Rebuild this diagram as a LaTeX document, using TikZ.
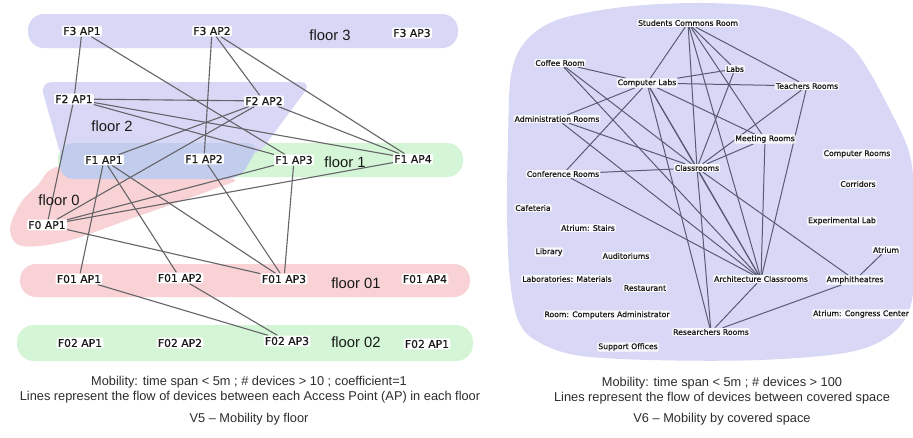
\documentclass[tikz,border=0pt]{standalone}
\usepackage{fontspec}
\setmainfont{Liberation Sans}
\newfontfamily\apfont[FakeBold=0.8]{DejaVu Sans}
\pgfdeclarelayer{blobs}
\pgfdeclarelayer{edges}
\pgfsetlayers{blobs,edges,main}
\definecolor{lav}{RGB}{216,216,246}
\definecolor{pinkf}{RGB}{248,210,212}
\definecolor{greenf}{RGB}{212,246,214}
\definecolor{ovl}{RGB}{194,204,236}
\definecolor{edgeL}{RGB}{100,100,105}
\definecolor{edgeR}{RGB}{90,90,115}
\definecolor{txt}{RGB}{25,25,25}
\definecolor{captxt}{RGB}{45,45,45}
\begin{document}
\begin{tikzpicture}[x=1pt,y=-1pt,
  ap/.style={fill=white, rounded corners=2pt, inner sep=1.3pt, text=txt, font=\apfont\fontsize{10.8}{12}\selectfont},
  flabel/.style={text=txt, inner sep=0pt, font=\fontsize{14.8}{16}\selectfont},
  room/.style={fill=white, fill opacity=0.85, text opacity=1, rounded corners=1.5pt, inner sep=1pt, text=txt, font=\apfont\fontsize{7.7}{9}\selectfont},
  linkL/.style={draw=edgeL, line width=1.1pt},
  linkR/.style={draw=edgeR, line width=1pt},
  captext/.style={text=captxt, inner sep=0pt, font=\fontsize{12.8}{15}\selectfont},
]
\useasboundingbox (0,0) rectangle (913,437);

% ---------- left: AP labels ----------
\node[ap] (f3a1) at (82,31) {F3 AP1};
\node[ap] (f3a2) at (212,31) {F3 AP2};
\node[ap] (f3a3) at (412,33) {F3 AP3};
\node[flabel] (fl3) at (330,35) {floor 3};
\node[ap] (f2a1) at (74,99) {F2 AP1};
\node[ap] (f2a2) at (264,101) {F2 AP2};
\node[flabel] (fl2) at (112,126) {floor 2};
\node[ap] (f1a1) at (104,160) {F1 AP1};
\node[ap] (f1a2) at (204,159) {F1 AP2};
\node[ap] (f1a3) at (294,160) {F1 AP3};
\node[flabel] (fl1) at (345,162) {floor 1};
\node[ap] (f1a4) at (413,159) {F1 AP4};
\node[flabel] (fl0) at (59,200) {floor 0};
\node[ap] (f0a1) at (47,225) {F0 AP1};
\node[ap] (f01a1) at (79,279) {F01 AP1};
\node[ap] (f01a2) at (180,278) {F01 AP2};
\node[ap] (f01a3) at (284,279) {F01 AP3};
\node[flabel] (fl01) at (356,283) {floor 01};
\node[ap] (f01a4) at (425,279) {F01 AP4};
\node[ap] (f02a1) at (80,343) {F02 AP1};
\node[ap] (f02a2) at (180,343) {F02 AP2};
\node[ap] (f02a3) at (287,341) {F02 AP3};
\node[flabel] (fl02) at (356,342) {floor 02};
\node[ap] (f02a1b) at (427,344) {F02 AP1};

% ---------- right: rooms ----------
\node[room] (scr) at (688,23) {Students Commons Room};
\node[room] (coffee) at (560,63) {Coffee Room};
\node[room] (clabs) at (647,83) {Computer Labs};
\node[room] (labs) at (735,69) {Labs};
\node[room] (teach) at (807,86) {Teachers Rooms};
\node[room] (admin) at (557,119) {Administration Rooms};
\node[room] (meet) at (765,139) {Meeting Rooms};
\node[room] (comproom) at (857,154) {Computer Rooms};
\node[room] (class) at (697,168) {Classrooms};
\node[room] (conf) at (563,174) {Conference Rooms};
\node[room] (corr) at (858,184) {Corridors};
\node[room] (cafe) at (533,208) {Cafeteria};
\node[room] (explab) at (842,221) {Experimental Lab};
\node[room] (astairs) at (588,228) {Atrium: Stairs};
\node[room] (lib) at (549,252) {Library};
\node[room] (aud) at (626,256) {Auditoriums};
\node[room] (atrium) at (886,250) {Atrium};
\node[room] (labmat) at (567,279) {Laboratories: Materials};
\node[room] (arch) at (761,279) {Architecture Classrooms};
\node[room] (amph) at (855,280) {Amphitheatres};
\node[room] (rest) at (645,288) {Restaurant};
\node[room] (rca) at (607,315) {Room: Computers Administrator};
\node[room] (acc) at (861,314) {Atrium: Congress Center};
\node[room] (res) at (711,332) {Researchers Rooms};
\node[room] (supp) at (628,347) {Support Offices};

% ---------- captions ----------
\node[captext] (c1) at (249,382) {Mobility: time span < 5m ; \# devices > 10 ; coefficient=1};
\node[captext] (c2) at (250,397) {Lines represent the flow of devices between each Access Point (AP) in each floor};
\node[captext] (c3) at (249,419) {V5 – Mobility by floor};
\node[captext] (c4) at (722,383) {Mobility: time span < 5m ; \# devices > 100};
\node[captext] (c5) at (722,398) {Lines represent the flow of devices between covered space};
\node[captext] (c6) at (722,419) {V6 – Mobility by covered space};

% ---------- regions ----------
\begin{pgfonlayer}{blobs}
  \fill[white] (0,0) rectangle (913,437);
  \fill[lav] (28,14) [rounded corners=16] rectangle (458,48);
  \fill[pinkf] plot[smooth cycle, tension=0.55] coordinates {(62,166) (150,177) (232,179) (214,189) (133,218) (67,241) (22,246) (10,230) (20,204) (37,186)};
  \fill[greenf] (58,143) [rounded corners=16] rectangle (463,177);
  \fill[lav, rounded corners=12] (40,82) -- (312,82) -- (258,155) -- (62,160) -- cycle;
  \fill[ovl, rounded corners=13] (60,143) -- (260,143) -- (240,179) -- (60,179) -- cycle;
  \fill[pinkf] (20,264) [rounded corners=16] rectangle (470,297);
  \fill[greenf] (17,325) [rounded corners=17] rectangle (473,361);
  \begin{scope}
    \clip (0,0) rectangle (913,437);
    \fill[lav] plot[smooth cycle, tension=0.55] coordinates {(507,215) (508,140) (511,75) (525,42) (557,20) (623,7) (700,3) (770,8) (823,28) (857,53) (890,110) (911,160) (914,230) (912,300) (893,333) (850,352) (760,360) (650,360) (575,355) (535,340) (518,320) (510,280)};
  \end{scope}
\end{pgfonlayer}

% ---------- connectors ----------
\begin{pgfonlayer}{edges}
  \draw[linkL] (f3a1) -- (f2a1);
  \draw[linkL] (f3a1) -- (f1a3);
  \draw[linkL] (f3a2) -- (f1a2);
  \draw[linkL] (f3a2) -- (f2a2);
  \draw[linkL] (f3a2) -- (f1a4);
  \draw[linkL] (f2a1) -- (f2a2);
  \draw[linkL] (f2a1) -- (f1a3);
  \draw[linkL] (f2a1) -- (f1a4);
  \draw[linkL] (f2a1) -- (f0a1);
  \draw[linkL] (f2a2) -- (f1a1);
  \draw[linkL] (f2a2) -- (f0a1);
  \draw[linkL] (f2a2) -- (f1a4);
  \draw[linkL] (f1a1) -- (f01a1);
  \draw[linkL] (f1a1) -- (f01a2);
  \draw[linkL] (f1a1) -- (f01a3);
  \draw[linkL] (f1a2) -- (f01a3);
  \draw[linkL] (f1a3) -- (f01a3);
  \draw[linkL] (f1a3) -- (f0a1);
  \draw[linkL] (f1a4) -- (f0a1);
  \draw[linkL] (f0a1) -- (f01a3);
  \draw[linkL] (f01a1) -- (f02a3);
  \draw[linkL] (f01a2) -- (f02a3);

  \draw[linkR] (scr) -- (clabs);
  \draw[linkR] (scr) -- (class);
  \draw[linkR] (scr) -- (labs);
  \draw[linkR] (scr) -- (meet);
  \draw[linkR] (scr) -- (teach);
  \draw[linkR] (scr) -- (arch);
  \draw[linkR] (coffee) -- (clabs);
  \draw[linkR] (coffee) -- (class);
  \draw[linkR] (coffee) -- (arch);
  \draw[linkR] (clabs) -- (labs);
  \draw[linkR] (clabs) -- (teach);
  \draw[linkR] (clabs) -- (admin);
  \draw[linkR] (clabs) -- (conf);
  \draw[linkR] (clabs) -- (meet);
  \draw[linkR] (clabs) -- (arch);
  \draw[linkR] (clabs) -- (res);
  \draw[linkR] (clabs) -- (class);
  \draw[linkR] (labs) -- (class);
  \draw[linkR] (teach) -- (class);
  \draw[linkR] (teach) -- (arch);
  \draw[linkR] (admin) -- (class);
  \draw[linkR] (admin) -- (arch);
  \draw[linkR] (meet) -- (class);
  \draw[linkR] (meet) -- (arch);
  \draw[linkR] (conf) -- (class);
  \draw[linkR] (conf) -- (arch);
  \draw[linkR] (class) -- (arch);
  \draw[linkR] (class) -- (res);
  \draw[linkR] (class) -- (amph);
  \draw[linkR] (arch) -- (res);
  \draw[linkR] (amph) -- (res);
  \draw[linkR] (amph) -- (atrium);
\end{pgfonlayer}
\end{tikzpicture}
\end{document}
